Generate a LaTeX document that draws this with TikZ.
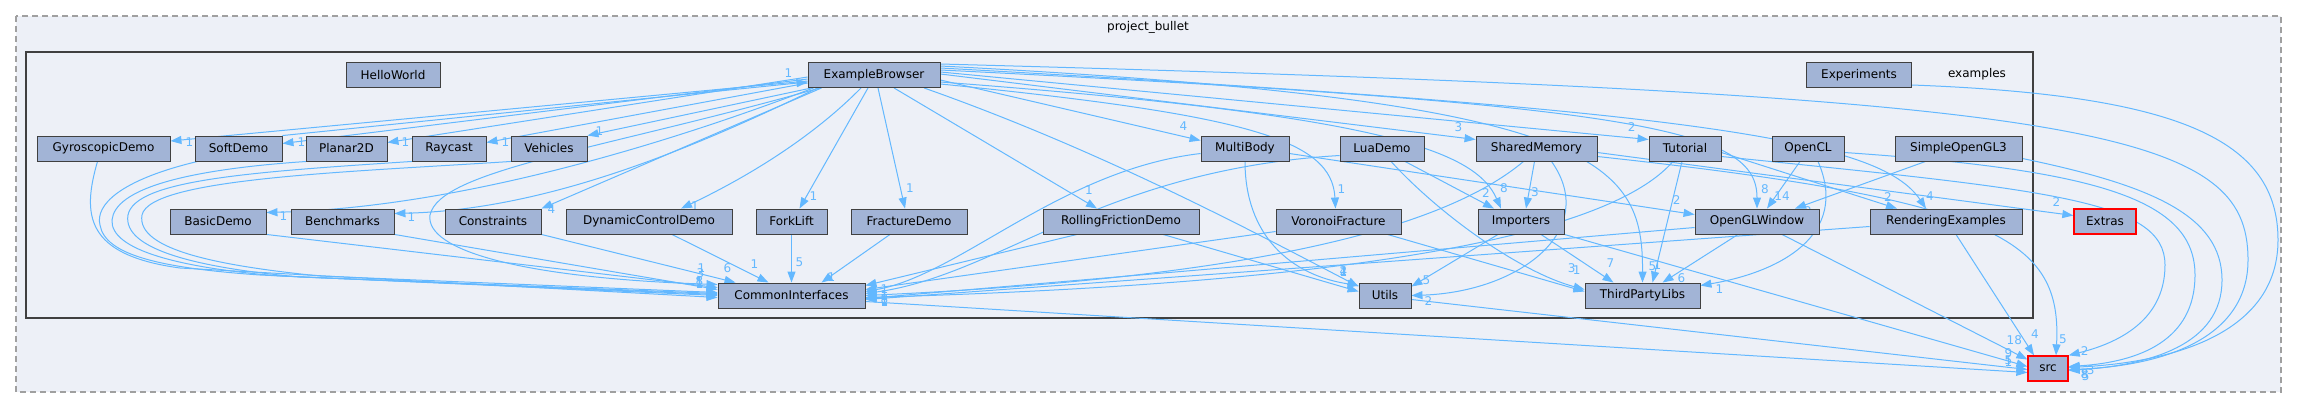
\documentclass[tikz,border=0pt]{standalone}
\usepackage{fontspec}
\setmainfont{DejaVu Sans}
\usetikzlibrary{arrows.meta, positioning, backgrounds}
\definecolor{dirfill}{RGB}{162, 180, 214}
\definecolor{dirline}{RGB}{64, 64, 64}
\definecolor{clusterbg}{RGB}{237, 240, 247}
\definecolor{dashgray}{RGB}{160, 160, 160}
\definecolor{edgeblue}{RGB}{99, 184, 255}

\begin{document}
\begin{tikzpicture}[
    x=1pt, y=1pt,
    dirbox/.style={
        rectangle, draw=dirline, line width=0.9pt, fill=dirfill,
        minimum height=25pt, inner sep=0pt,
        font=\fontsize{12}{14}\selectfont
    },
    extbox/.style={dirbox, draw=red, line width=1.3pt},
    arrow/.style={
        -{Triangle[length=11pt, width=8pt]}, line width=1pt, draw=edgeblue
    },
    num/.style={font=\fontsize{12}{14}\selectfont, text=edgeblue, inner sep=0pt},
    outerbox/.style={draw=dashgray, line width=1.3pt, dash pattern=on 6pt off 4pt, fill=clusterbg},
    innerbox/.style={draw=dirline, line width=2.2pt, fill=clusterbg},
    boxlabel/.style={font=\fontsize{12}{14}\selectfont}
]
\useasboundingbox (0,0) rectangle (2297,-408);

% top row
\node[dirbox, minimum width=94pt] (hello) at (393,-75) {HelloWorld};
\node[dirbox, minimum width=132pt] (browser) at (874,-75) {ExampleBrowser};
\node[dirbox, minimum width=105pt] (experiments) at (1859,-75) {Experiments};

% second row
\node[dirbox, minimum width=133pt] (gyro) at (103.5,-148.5) {GyroscopicDemo};
\node[dirbox, minimum width=87pt] (soft) at (238.5,-148.5) {SoftDemo};
\node[dirbox, minimum width=81pt] (planar) at (346.5,-148.5) {Planar2D};
\node[dirbox, minimum width=74pt] (raycast) at (449,-148.5) {Raycast};
\node[dirbox, minimum width=76pt] (vehicles) at (549,-148.5) {Vehicles};
\node[dirbox, minimum width=88pt] (multibody) at (1245,-148.5) {MultiBody};
\node[dirbox, minimum width=84pt] (lua) at (1382,-148.5) {LuaDemo};
\node[dirbox, minimum width=121pt] (shared) at (1536.5,-148.5) {SharedMemory};
\node[dirbox, minimum width=72pt] (tutorial) at (1685,-148.5) {Tutorial};
\node[dirbox, minimum width=72pt] (opencl) at (1808,-148.5) {OpenCL};
\node[dirbox, minimum width=127pt] (simplegl) at (1958.5,-148.5) {SimpleOpenGL3};

% third row
\node[dirbox, minimum width=96pt] (basic) at (218,-221.5) {BasicDemo};
\node[dirbox, minimum width=103pt] (bench) at (342.5,-221.5) {Benchmarks};
\node[dirbox, minimum width=96pt] (constraints) at (493,-221.5) {Constraints};
\node[dirbox, minimum width=166pt] (dyncontrol) at (649,-221.5) {DynamicControlDemo};
\node[dirbox, minimum width=71pt] (forklift) at (791.5,-221.5) {ForkLift};
\node[dirbox, minimum width=116pt] (fracture) at (909,-221.5) {FractureDemo};
\node[dirbox, minimum width=156pt] (rolling) at (1121,-221.5) {RollingFrictionDemo};
\node[dirbox, minimum width=125pt] (voronoi) at (1338.5,-221.5) {VoronoiFracture};
\node[dirbox, minimum width=86pt] (importers) at (1521,-221.5) {Importers};
\node[dirbox, minimum width=124pt] (glwindow) at (1757,-221.5) {OpenGLWindow};
\node[dirbox, minimum width=152pt] (rendering) at (1946,-221.5) {RenderingExamples};
\node[extbox, minimum width=62pt] (extras) at (2105,-221.5) {Extras};

% bottom row
\node[dirbox, minimum width=147pt] (common) at (791.5,-295.5) {CommonInterfaces};
\node[dirbox, minimum width=52pt] (utils) at (1385,-295.5) {Utils};
\node[dirbox, minimum width=115pt] (thirdparty) at (1642.5,-295.5) {ThirdPartyLibs};
\node[extbox, minimum width=40pt] (src) at (2048,-368.5) {src};

\begin{scope}[on background layer]
% clusters
\draw[outerbox] (16,-16) rectangle (2281,-392);
\node[boxlabel] (projlabel) at (1148,-27) {project\_bullet};
\draw[innerbox] (26,-52) rectangle (2033,-318);
\node[boxlabel] (exlabel) at (1977,-74) {examples};

% ExampleBrowser to the demos
\draw[arrow] ([yshift=-6pt]browser.west) -- ([yshift=7.5pt]gyro.east) node[num, xshift=19pt, yshift=-1pt] {1};
\draw[arrow] ([yshift=-4pt]browser.west) -- ([yshift=5pt]soft.east) node[num, xshift=19pt, yshift=1pt] {1};
\draw[arrow] ([yshift=-2pt]browser.west) -- ([yshift=6pt]planar.east) node[num, xshift=18pt] {1};
\draw[arrow] ([yshift=-8pt]browser.west) -- ([yshift=6pt]raycast.east) node[num, xshift=19pt] {1};
\draw[arrow] ([xshift=4pt]browser.south west) -- (vehicles.north east) node[num, xshift=12pt, yshift=4pt] {1};
\draw[arrow] (soft.north east) -- ([yshift=-7pt]browser.west) node[num, xshift=-19pt, yshift=9pt] {1};
\draw[arrow] ([xshift=6pt]browser.south west) .. controls (650,-150) and (450,-208) .. ([yshift=9pt]basic.east) node[num, xshift=17pt, yshift=-4pt] {1};
\draw[arrow] ([xshift=10pt]browser.south west) .. controls (680,-155) and (540,-210) .. ([yshift=8pt]bench.east) node[num, xshift=17pt, yshift=-4pt] {1};
\draw[arrow] ([xshift=14pt]browser.south west) -- (constraints.north east) node[num, xshift=10pt, yshift=-1pt] {4};
\draw[arrow] ([xshift=-13pt]browser.south) .. controls (800,-150) and (720,-190) .. ([xshift=32pt]dyncontrol.north) node[num, xshift=14pt, yshift=2pt] {1};
\draw[arrow] ([xshift=-6pt]browser.south) -- ([xshift=8pt]forklift.north) node[num, xshift=14pt, yshift=12pt] {1};
\draw[arrow] ([xshift=4pt]browser.south) -- ([xshift=-4pt]fracture.north) node[num, xshift=5pt, yshift=20pt] {1};
\draw[arrow] ([xshift=20pt]browser.south) -- ([xshift=-24pt]rolling.north) node[num, xshift=-8pt, yshift=18pt] {1};
\draw[arrow] ([yshift=-5pt]browser.east) -- ([yshift=8pt]multibody.west) node[num, xshift=-17pt, yshift=14pt] {4};
\draw[arrow] ([yshift=-9pt]browser.east) .. controls (1250,-115) and (1332,-140) .. ([xshift=-3pt]voronoi.north) node[num, xshift=6pt, yshift=19pt] {1};
\draw[arrow] ([yshift=1pt]browser.east) -- ([yshift=9pt]shared.west) node[num, xshift=-17pt, yshift=12pt] {3};
\draw[arrow] ([yshift=3pt]browser.east) -- ([yshift=9pt]tutorial.west) node[num, xshift=-17pt, yshift=12pt] {2};
\draw[arrow] ([yshift=-7pt]browser.east) .. controls (1380,-115) and (1475,-150) .. ([xshift=-20pt]importers.north) node[num, xshift=3pt, yshift=20pt] {8};
\draw[arrow] ([yshift=5pt]browser.east) .. controls (1650,-105) and (1757,-130) .. (glwindow.north) node[num, xshift=8pt, yshift=19pt] {8};
\draw[arrow] ([yshift=7pt]browser.east) .. controls (1700,-110) and (1880,-140) .. ([xshift=-20pt]rendering.north) node[num, xshift=4pt, yshift=12pt] {4};
\draw[arrow] ([yshift=9pt]browser.east) .. controls (1600,-100) and (1643,-160) .. (thirdparty.north) node[num, xshift=10pt, yshift=16pt] {5};
\draw[arrow] ([xshift=50pt]browser.south) .. controls (1100,-150) and (1250,-230) .. ([yshift=9pt]utils.west) node[num, xshift=-15pt, yshift=15pt] {4};
\draw[arrow] ([xshift=-54pt]browser.south) .. controls (600,-150) and (440,-170) .. (430,-215) .. controls (425,-250) and (520,-278) .. ([yshift=11pt]common.west) node[num, xshift=-18pt, yshift=3pt] {8};
\draw[arrow] ([yshift=11pt]browser.east) .. controls (2100,-95) and (2248,-130) .. (2248,-260) .. controls (2248,-340) and (2160,-366) .. ([yshift=-1pt]src.east) node[num, xshift=16pt, yshift=-5pt] {8};

% demos to CommonInterfaces
\draw[arrow] ([xshift=-6pt]gyro.south) .. controls (82,-215) and (85,-255) .. (180,-268) -- ([yshift=-2pt]common.west) node[num, xshift=-18pt, yshift=13pt] {1};
\draw[arrow] ([xshift=-41pt]soft.south) .. controls (120,-180) and (95,-205) .. (100,-225) .. controls (105,-255) and (160,-268) .. (260,-275) -- (common.west) node[num, xshift=-18pt, yshift=12pt] {1};
\draw[arrow] ([xshift=-40pt]planar.south) .. controls (180,-170) and (115,-190) .. (112,-220) .. controls (110,-250) and (180,-268) .. (280,-276) -- ([yshift=1pt]common.west) node[num, xshift=-18pt, yshift=12pt] {1};
\draw[arrow] ([xshift=-37pt]raycast.south) .. controls (250,-172) and (135,-180) .. (128,-215) .. controls (122,-250) and (200,-268) .. (300,-277) -- ([yshift=2pt]common.west) node[num, xshift=-18pt, yshift=11pt] {1};
\draw[arrow] ([xshift=-38pt]vehicles.south) .. controls (350,-172) and (150,-178) .. (142,-215) .. controls (136,-250) and (220,-266) .. (320,-276) -- ([yshift=3pt]common.west) node[num, xshift=-18pt, yshift=10pt] {1};
\draw[arrow] (basic.south east) -- ([yshift=8pt]common.west) node[num, xshift=-16pt, yshift=19.5pt] {1};
\draw[arrow] (bench.south east) -- ([yshift=6pt]common.west) node[num, xshift=-17pt, yshift=16.5pt] {3};
\draw[arrow] (constraints.south east) -- ([xshift=-56pt]common.north) node[num, xshift=-8pt, yshift=14pt] {6};
\draw[arrow] ([xshift=23pt]dyncontrol.south) -- ([xshift=-23pt]common.north) node[num, xshift=-14pt, yshift=18pt] {1};
\draw[arrow] (forklift.south) -- (common.north) node[num, xshift=8pt, yshift=20pt] {5};
\draw[arrow] ([xshift=-19pt]fracture.south) -- ([xshift=30pt]common.north) node[num, xshift=10pt, yshift=5pt] {1};
\draw[arrow] ([xshift=-44pt]rolling.south) -- ([yshift=10pt]common.east) node[num, xshift=19pt, yshift=-4pt] {1};
\draw[arrow] ([yshift=-10pt]voronoi.west) -- ([yshift=6pt]common.east) node[num, xshift=19pt, yshift=-6pt] {1};
\draw[arrow] ([yshift=-5pt]multibody.west) .. controls (1060,-170) and (960,-275) .. ([yshift=4pt]common.east) node[num, xshift=19pt, yshift=-4pt] {1};
\draw[arrow] ([yshift=-7pt]lua.west) .. controls (1100,-170) and (1000,-275) .. ([yshift=2pt]common.east) node[num, xshift=19pt, yshift=-3pt] {1};
\draw[arrow] ([xshift=-13pt]shared.south) .. controls (1430,-240) and (1200,-280) .. (common.east) node[num, xshift=19pt, yshift=-4pt] {8};
\draw[arrow] ([xshift=-12pt]tutorial.south) .. controls (1600,-245) and (1300,-285) .. ([yshift=-2pt]common.east) node[num, xshift=19pt, yshift=-3pt] {1};
\draw[arrow] ([yshift=-6pt]glwindow.west) -- ([yshift=-3pt]common.east) node[num, xshift=19pt, yshift=-3pt] {1};
\draw[arrow] ([yshift=-5pt]rendering.west) -- ([yshift=-4pt]common.east) node[num, xshift=19pt, yshift=-3pt] {1};

% the other dependencies
\draw[arrow] (multibody.south) .. controls (1245,-235) and (1290,-275) .. ([yshift=10pt]utils.west) node[num, xshift=-15pt, yshift=14pt] {2};
\draw[arrow] ([xshift=42pt]rolling.south) -- ([yshift=4pt]utils.west) node[num, xshift=-15pt, yshift=19pt] {1};
\draw[arrow] ([yshift=-5pt]multibody.east) -- ([yshift=7pt]glwindow.west) node[num, xshift=-18pt, yshift=14pt] {2};
\draw[arrow] ([xshift=23pt]lua.south) -- ([xshift=-27pt]importers.north) node[num, xshift=-8pt, yshift=16pt] {2};
\draw[arrow] ([xshift=9pt]lua.south) .. controls (1440,-215) and (1520,-272) .. ([yshift=6pt]thirdparty.west) node[num, xshift=-8pt, yshift=19pt] {1};
\draw[arrow] ([xshift=49pt]voronoi.south) -- ([yshift=4pt]thirdparty.west) node[num, xshift=-13pt, yshift=23pt] {3};
\draw[arrow] ([xshift=-2pt]shared.south) -- ([xshift=5pt]importers.north) node[num, xshift=9pt, yshift=16pt] {3};
\draw[arrow] ([xshift=15pt]shared.south) .. controls (1600,-230) and (1520,-292) .. (utils.east) node[num, xshift=17pt, yshift=-6pt] {2};
\draw[arrow] ([yshift=-4pt]shared.east) -- ([yshift=6pt]extras.west) node[num, xshift=-17pt, yshift=13.5pt] {2};
\draw[arrow] ([yshift=-8pt]shared.east) .. controls (2000,-200) and (2062,-240) .. ([xshift=8pt]src.north) node[num, xshift=7pt, yshift=16pt] {5};
\draw[arrow] ([xshift=-3pt]tutorial.south) -- ([xshift=10pt]thirdparty.north) node[num, xshift=5pt, yshift=17pt] {1};
\draw[arrow] ([yshift=-4pt]tutorial.east) -- ([xshift=-49pt]rendering.north) node[num, xshift=-9pt, yshift=12pt] {2};
\draw[arrow] ([yshift=-8pt]tutorial.east) .. controls (2050,-190) and (2165,-200) .. (2165,-265) .. controls (2165,-325) and (2110,-345) .. (src.north east) node[num, xshift=16pt, yshift=4pt] {2};
\draw[arrow] ([xshift=-8pt]opencl.south) -- ([xshift=10pt]glwindow.north) node[num, xshift=15pt, yshift=12pt] {14};
\draw[arrow] ([xshift=10pt]opencl.south) .. controls (1850,-235) and (1780,-272) .. ([yshift=10pt]thirdparty.east) node[num, xshift=19pt, yshift=-4pt] {1};
\draw[arrow] ([yshift=-4pt]opencl.east) .. controls (2100,-170) and (2195,-200) .. (2195,-275) .. controls (2195,-340) and (2140,-362) .. ([yshift=2pt]src.east) node[num, xshift=17pt, yshift=-10pt] {5};
\draw[arrow] ([xshift=-33pt]simplegl.south) -- ([xshift=38pt]glwindow.north) node[num, xshift=13pt, yshift=-2pt] {2};
\draw[arrow] ([yshift=-10pt]simplegl.east) .. controls (2150,-185) and (2222,-215) .. (2222,-280) .. controls (2222,-345) and (2150,-365) .. ([yshift=-2pt]src.east) node[num, xshift=16pt, yshift=-4pt] {8};
\draw[arrow] ([yshift=-10pt]experiments.east) .. controls (2180,-95) and (2278,-140) .. (2278,-240) .. controls (2278,-330) and (2180,-362) .. ([yshift=1pt]src.east) node[num, xshift=22pt, yshift=-3pt] {3};
\draw[arrow] ([xshift=-19pt]glwindow.south) -- ([xshift=20pt]thirdparty.north) node[num, xshift=19pt, yshift=4pt] {6};
\draw[arrow] ([xshift=25pt]glwindow.south) -- ([yshift=9pt]src.west) node[num, xshift=-13pt, yshift=19pt] {18};
\draw[arrow] ([xshift=10pt]rendering.south) -- ([xshift=-14pt]src.north) node[num, xshift=1pt, yshift=21pt] {4};
\draw[arrow] ([xshift=-23pt]importers.south) -- ([yshift=9pt]utils.east) node[num, xshift=15pt, yshift=6pt] {5};
\draw[arrow] ([xshift=20pt]importers.south) -- ([xshift=-29pt]thirdparty.north) node[num, xshift=-3pt, yshift=19pt] {7};
\draw[arrow] (importers.south east) -- ([yshift=2pt]src.west) node[num, xshift=-19pt, yshift=4.5pt] {1};
\draw[arrow] ([yshift=-6pt]common.east) -- ([yshift=-4pt]src.west) node[num, xshift=-19pt, yshift=19.5pt] {9};
\draw[arrow] ([yshift=-4pt]utils.east) -- ([yshift=-1pt]src.west) node[num, xshift=-19pt, yshift=9pt] {5};
\end{scope}

\end{tikzpicture}
\end{document}
